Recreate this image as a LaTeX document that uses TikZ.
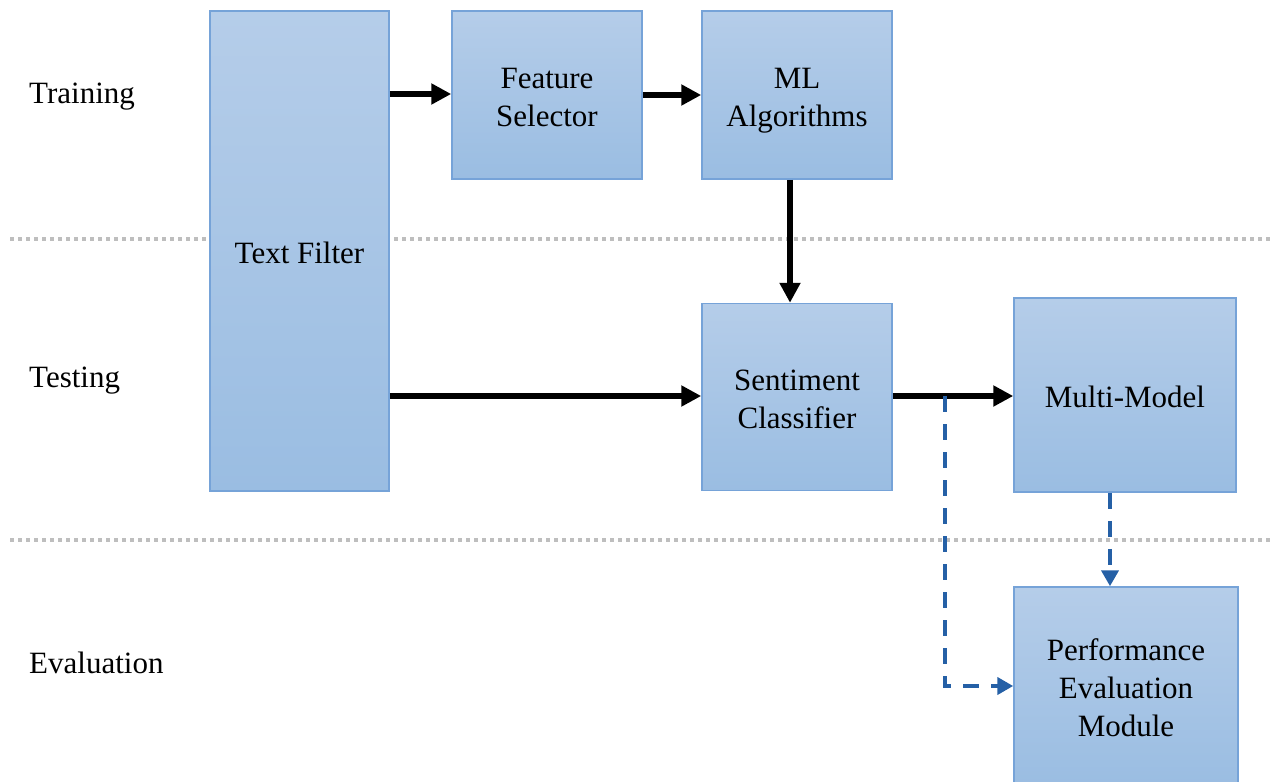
\documentclass[tikz,border=0pt]{standalone}
\usepackage{fontspec}
\setmainfont{Liberation Serif}
\usetikzlibrary{arrows.meta}

\definecolor{boxtop}{RGB}{181,205,233}
\definecolor{boxbot}{RGB}{154,189,226}
\definecolor{boxedge}{RGB}{118,163,216}
\definecolor{flowblue}{RGB}{37,96,166}
\definecolor{sepgray}{RGB}{190,190,190}

% fixed-height strut so every text line sits on the same grid
\newcommand\linestrut{\rule[-6.5pt]{0pt}{38pt}}

\tikzset{
  stage/.style={draw=boxedge, line width=1.5pt, top color=boxtop, bottom color=boxbot,
    inner sep=0pt, align=center, font=\fontsize{31}{38}\selectfont},
  phase/.style={anchor=base west, inner sep=0pt, font=\fontsize{31}{38}\selectfont},
  flow/.style={line width=6pt, -{Triangle[length=20pt,width=20pt]}},
  evalflow/.style={draw=flowblue, line width=4pt, dash pattern=on 16pt off 12pt,
    -{Triangle[length=16pt,width=17pt]}},
  separator/.style={draw=sepgray, line width=4pt, dash pattern=on 4pt off 4pt}
}

\begin{document}
\begin{tikzpicture}[x=1pt, y=-1pt]
  \clip (0,0) rectangle (1273,781);
  \useasboundingbox (0,0) rectangle (1273,781);

  % phase separators
  \coordinate (s1a) at (10,239);  \coordinate (s1b) at (1270,239);
  \coordinate (s2a) at (10,540);  \coordinate (s2b) at (1270,540);
  \draw[separator] (s1a) -- (s1b);
  \draw[separator] (s2a) -- (s2b);

  % phase labels
  \node[phase] (ltrain) at (29,104) {Training};
  \node[phase] (ltest)  at (29,387) {Testing};
  \node[phase] (leval)  at (29,673) {Evaluation};

  % processing stages
  \node[stage, minimum width=179pt, minimum height=480pt] (tf) at (299.5,251)
    {\linestrut Text Filter};
  \node[stage, minimum width=190pt, minimum height=168pt] (fs) at (547,95)
    {\linestrut Feature\\\linestrut Selector};
  \node[stage, minimum width=190pt, minimum height=168pt] (ml) at (797,95)
    {\linestrut ML\\\linestrut Algorithms};
  \node[stage, minimum width=190pt, minimum height=187pt] (sc) at (797,397)
    {\linestrut Sentiment\\\linestrut Classifier};
  \node[stage, minimum width=222pt, minimum height=194pt] (mm) at (1125,395)
    {\linestrut Multi-Model};
  \node[stage, minimum width=224pt, minimum height=198pt] (pe) at (1126,686)
    {\linestrut Performance\\\linestrut Evaluation\\\linestrut Module};

  % helper coordinates for offset connectors
  \coordinate (mlx) at (790,0);
  \coordinate (split) at (945,396);
  \coordinate (mmx) at (1110,0);

  % main flow
  \draw[flow] (tf.east |- 0,94) -- (fs.west |- 0,94);
  \draw[flow] (fs.east) -- (ml.west);
  \draw[flow] (mlx |- ml.south) -- (mlx |- sc.north);
  \draw[flow] (tf.east |- split) -- (sc.west |- split);
  \draw[flow] (sc.east |- split) -- (mm.west |- split);

  % evaluation flow
  \draw[evalflow] (split) -- (split |- pe.west) -- (pe.west);
  \draw[evalflow] (mmx |- mm.south) -- (mmx |- pe.north);
\end{tikzpicture}
\end{document}
